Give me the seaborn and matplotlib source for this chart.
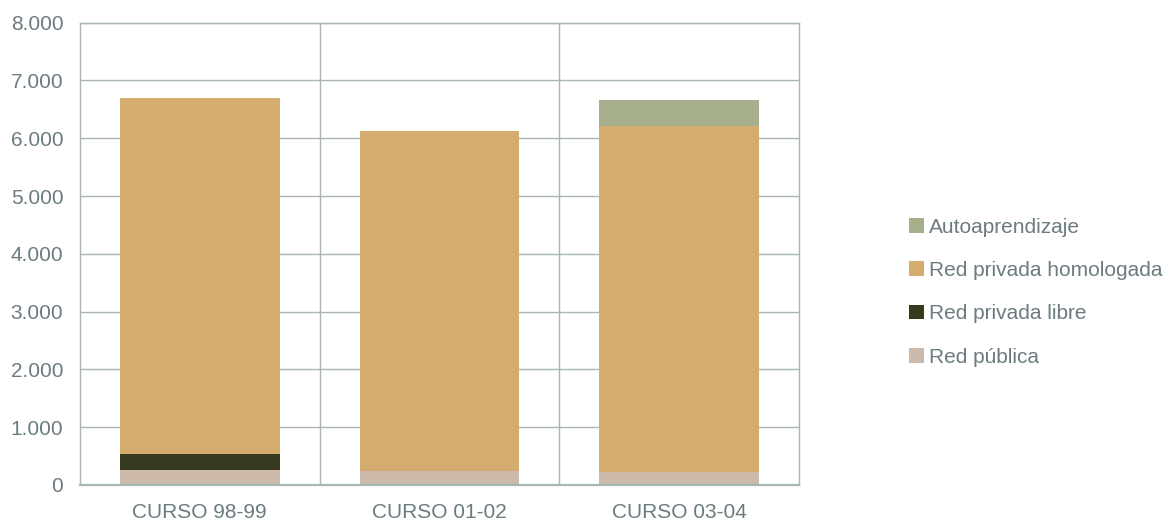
import numpy as np
import pandas as pd
import matplotlib
matplotlib.use("Agg")
import matplotlib.pyplot as plt
import seaborn as sns
from matplotlib.patches import Patch

# Data
cursos = ["CURSO 98-99", "CURSO 01-02", "CURSO 03-04"]
red_publica = [265, 247, 230]
red_privada_libre = [277, 0, 0]
red_privada_homologada = [6154, 5878, 5981]
autoaprendizaje = [0, 0, 450]

series_names = ["Red pública", "Red privada libre", "Red privada homologada", "Autoaprendizaje"]
series_colors = ["#CDB9A9", "#363A1E", "#D5AC6F", "#A6AF8C"]

text_color = "#6B7B80"
grid_color = "#A9B6B6"

sns.set_style("white")
plt.rcParams["font.family"] = ["Liberation Sans", "DejaVu Sans"]

df = pd.DataFrame({
    "Curso": cursos,
    "Red pública": red_publica,
    "Red privada libre": red_privada_libre,
    "Red privada homologada": red_privada_homologada,
    "Autoaprendizaje": autoaprendizaje,
})

# cumulative totals, drawn from the tallest down so the layers stack
cum = df[series_names].cumsum(axis=1)

fig = plt.figure(figsize=(11.69, 5.23), dpi=100)
ax = fig.add_axes([0.0684, 0.0727, 0.615, 0.884])

for name, color in reversed(list(zip(series_names, series_colors))):
    sns.barplot(x=df["Curso"], y=cum[name], color=color, width=0.667,
                saturation=1, ax=ax, zorder=2, linewidth=0)

ax.set_ylim(0, 8000)
ax.set_xlim(-0.5, 2.5)
ax.set_yticks(range(0, 8001, 1000))
ax.set_yticklabels([f"{v:,}".replace(",", ".") for v in range(0, 8001, 1000)])
ax.set_xlabel("")
ax.set_ylabel("")

# grid: horizontal at ticks, vertical between categories
for v in range(1000, 8001, 1000):
    ax.axhline(v, color=grid_color, linewidth=1, zorder=1)
for xv in [0.5, 1.5]:
    ax.axvline(xv, color=grid_color, linewidth=1, zorder=1)

for side in ["left", "right", "top", "bottom"]:
    ax.spines[side].set_visible(True)
    ax.spines[side].set_color(grid_color)
    ax.spines[side].set_linewidth(1)
ax.spines["bottom"].set_linewidth(1.6)

ax.tick_params(axis="both", length=0, labelsize=15, colors=text_color)
ax.tick_params(axis="y", pad=12)
ax.tick_params(axis="x", pad=13)

handles = [Patch(facecolor=c, edgecolor="none", label=n)
           for n, c in reversed(list(zip(series_names, series_colors)))]
leg = fig.legend(handles=handles, loc="center left",
                 bbox_to_anchor=(0.7776, 0.4415), frameon=False,
                 fontsize=15, handlelength=0.7, handleheight=0.7,
                 handletextpad=0.25, labelspacing=1.17,
                 borderpad=0, borderaxespad=0)
for t in leg.get_texts():
    t.set_color(text_color)

fig.savefig("out.png", dpi=100)
